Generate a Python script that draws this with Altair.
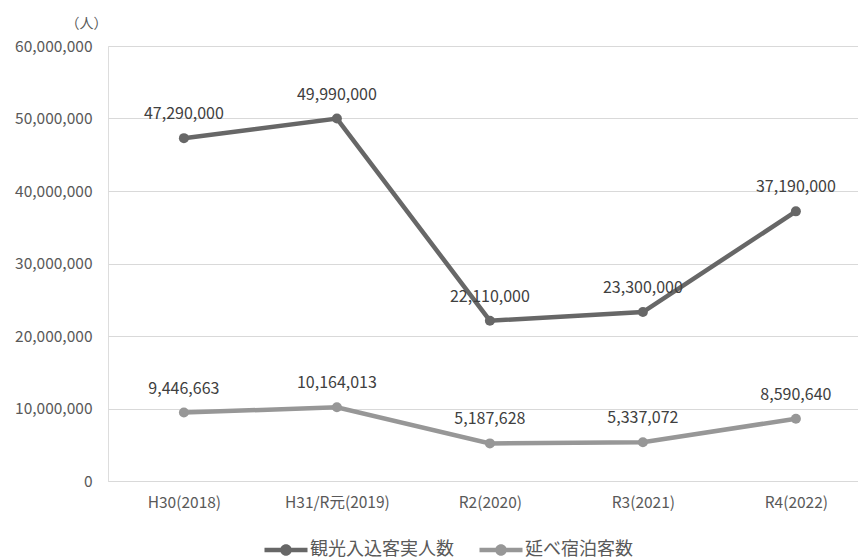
import altair as alt
import pandas as pd

# Fiscal years on the x axis
years = ["H30(2018)", "H31/R元(2019)", "R2(2020)", "R3(2021)", "R4(2022)"]
# Series names
series_names = ["観光入込客実人数", "延べ宿泊客数"]
# Annual visitors (actual persons)
visitors = [47290000, 49990000, 22110000, 23300000, 37190000]
# Overnight guests (total)
overnight = [9446663, 10164013, 5187628, 5337072, 8590640]

rows = []
for name, values in zip(series_names, [visitors, overnight]):
    for y, v in zip(years, values):
        rows.append({"year": y, "series": name, "value": v})
df = pd.DataFrame(rows)

FONT = "Noto Sans CJK JP"
colors = ["#676767", "#979797"]

x_enc = alt.X(
    "year:N",
    sort=years,
    scale=alt.Scale(type="point", padding=0.451, align=0.55),
    axis=alt.Axis(
        title=None, labelAngle=0, ticks=False, domain=True, domainColor="#d9d9d9",
        labelFont=FONT, labelFontSize=15.5, labelColor="#595959", labelPadding=14,
        grid=False,
    ),
)
y_enc = alt.Y(
    "value:Q",
    scale=alt.Scale(domain=[0, 60000000], nice=False),
    axis=alt.Axis(
        values=[0, 10000000, 20000000, 30000000, 40000000, 50000000, 60000000],
        labelExpr="format(datum.value, ',')",
        ticks=False, domain=False, grid=True, gridColor="#d9d9d9",
        labelFont=FONT, labelFontSize=15.5, labelColor="#595959", labelPadding=16,
        title="（人）", titleAngle=0, titleAlign="right", titleBaseline="middle",
        titleX=-1, titleY=-23, titleFont=FONT, titleFontSize=14,
        titleFontWeight="normal", titleColor="#595959",
    ),
)

# bar with a dot in the middle, used as the legend symbol
legend_path = (
    "M-1,-0.1 L1,-0.1 L1,0.1 L-1,0.1 Z "
    "M-0.27,0 A0.27,0.27 0 1,1 0.27,0 A0.27,0.27 0 1,1 -0.27,0 Z"
)
color_enc = alt.Color(
    "series:N",
    scale=alt.Scale(domain=series_names, range=colors),
    legend=alt.Legend(
        title=None, orient="none", direction="horizontal",
        legendX=156, legendY=482,
        symbolType=legend_path, symbolSize=1850, symbolStrokeWidth=0,
        symbolOpacity=1,
        labelFont=FONT, labelFontSize=18, labelColor="#595959",
        labelOffset=2, columnPadding=25,
    ),
)

base = alt.Chart(df).encode(x=x_enc, y=y_enc)

lines = base.mark_line(strokeWidth=4.5).encode(color=color_enc)
points = base.mark_circle(size=100, opacity=1).encode(color=color_enc)
labels = base.mark_text(
    dy=-24, font=FONT, fontSize=16, color="#404040", baseline="middle"
).encode(text=alt.Text("value:Q", format=","))

chart = (
    alt.layer(lines, points, labels)
    .properties(
        width=750, height=435,
        autosize=alt.AutoSizeParams(type="none"),
        padding={"left": 108, "top": 46, "right": 0, "bottom": 78},
    )
    .configure_view(stroke=None)
    .configure(background="white")
)

chart.save("out.html", embed_options={"renderer": "svg", "actions": False})
